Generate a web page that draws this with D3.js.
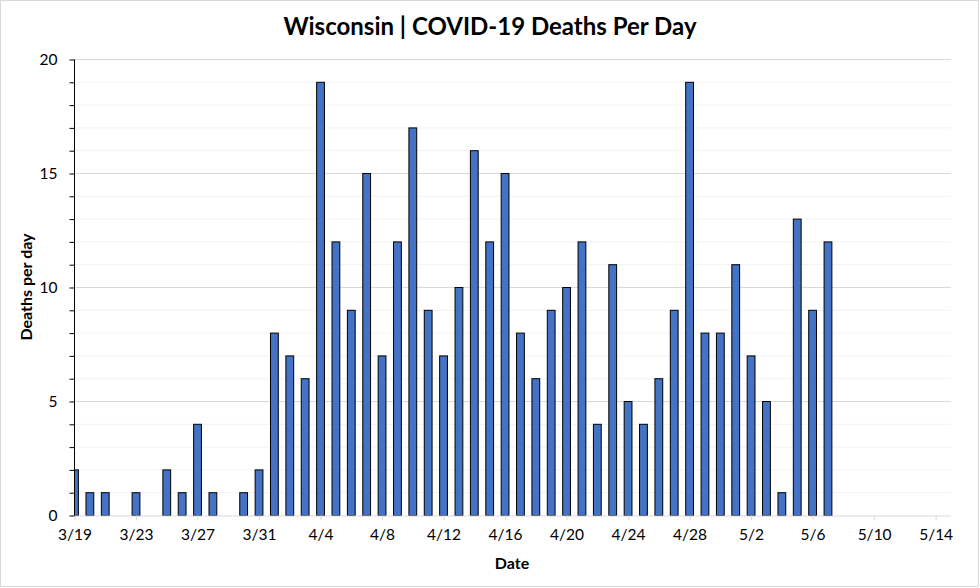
<!DOCTYPE html>
<html><head><meta charset="utf-8">
<script src="https://cdn.jsdelivr.net/npm/d3@7"></script>
<style>body{margin:0;background:#fff;} svg{display:block;font-family:Lato,"Open Sans",sans-serif;}</style>
</head><body>
<svg id="c" width="980" height="588"></svg>
<script>
const dates = ["3/19","3/20","3/21","3/22","3/23","3/24","3/25","3/26","3/27","3/28","3/29","3/30","3/31",
 "4/1","4/2","4/3","4/4","4/5","4/6","4/7","4/8","4/9","4/10","4/11","4/12","4/13","4/14","4/15","4/16","4/17","4/18","4/19","4/20","4/21","4/22","4/23","4/24","4/25","4/26","4/27","4/28","4/29","4/30",
 "5/1","5/2","5/3","5/4","5/5","5/6","5/7"];
const deaths = [2,1,1,0,1,0,2,1,4,1,0,1,2,
 8,7,6,19,12,9,15,7,12,17,9,7,10,16,12,15,8,6,9,10,12,4,11,5,4,6,9,19,8,8,
 11,7,5,1,13,9,12];
const yTicks = [0,5,10,15,20];
const xTickLabels = ["3/19","3/23","3/27","3/31","4/4","4/8","4/12","4/16","4/20","4/24","4/28","5/2","5/6","5/10","5/14"];

const parse = s => { const [m,d] = s.split("/").map(Number); return new Date(2020, m-1, d); };
const svg = d3.select("#c");
const L = 74.5, R = 951, T = 59.5, B = 515.5;
const x = d3.scaleTime().domain([parse("3/19"), parse("5/15")]).range([L, R]);
const y = d3.scaleLinear().domain([0,20]).range([B, T]);
const bw = 7.8;

svg.append("rect").attr("x",0.5).attr("y",0.5).attr("width",978).attr("height",586)
  .attr("fill","#fff").attr("stroke","#d9d9d9");

const g = svg.append("g");
d3.range(1,21).forEach(v=>{
  g.append("line").attr("x1",L).attr("x2",R).attr("y1",y(v)).attr("y2",y(v))
   .attr("stroke", v%5===0 ? "#d9d9d9" : "#f2f2f2").attr("stroke-width",1);
});

svg.append("defs").append("clipPath").attr("id","clip").append("rect")
  .attr("x",L).attr("y",0).attr("width",R-L).attr("height",B+1);

svg.append("g").attr("clip-path","url(#clip)").selectAll("rect").data(dates.map((d,i)=>({d,v:deaths[i]})).filter(o=>o.v>0))
  .join("rect")
  .attr("x",o=>x(parse(o.d))-bw/2).attr("width",bw)
  .attr("y",o=>y(o.v)).attr("height",o=>y(0)-y(o.v))
  .attr("fill","#4472C4").attr("stroke","#000").attr("stroke-width",1);

const xa = svg.append("g").attr("transform",`translate(0,${B})`)
  .call(d3.axisBottom(x).tickValues(xTickLabels.map(parse)).tickFormat((d,i)=>xTickLabels[i]).tickSize(5).tickPadding(8));
xa.select(".domain").attr("stroke","#d9d9d9").attr("d",`M${L},0.5H${R}`);
xa.selectAll(".tick line").attr("stroke","#d9d9d9");
xa.selectAll("text").attr("font-size",15.5).attr("fill","#000").style("font-family","Lato,sans-serif");

const ya = svg.append("g").attr("transform",`translate(${L},0)`)
  .call(d3.axisLeft(y).tickValues(d3.range(0,21)).tickFormat(v=>yTicks.includes(v)?v:"").tickSize(5).tickPadding(12));
ya.select(".domain").attr("stroke","#000").attr("d",`M0,${T}V${B}`);
ya.selectAll(".tick line").attr("stroke","#000");
ya.selectAll("text").attr("font-size",15.5).attr("fill","#000").style("font-family","Lato,sans-serif");

svg.append("text").attr("x",490).attr("y",35).attr("text-anchor","middle")
  .attr("font-size",24).attr("font-weight","bold").text("Wisconsin | COVID-19 Deaths Per Day");
svg.append("text").attr("x",512).attr("y",569).attr("text-anchor","middle")
  .attr("font-size",16).attr("font-weight","bold").text("Date");
svg.append("text").attr("transform",`translate(32,287) rotate(-90)`).attr("text-anchor","middle")
  .attr("font-size",16).attr("font-weight","bold").text("Deaths per day");
</script>
</body></html>
